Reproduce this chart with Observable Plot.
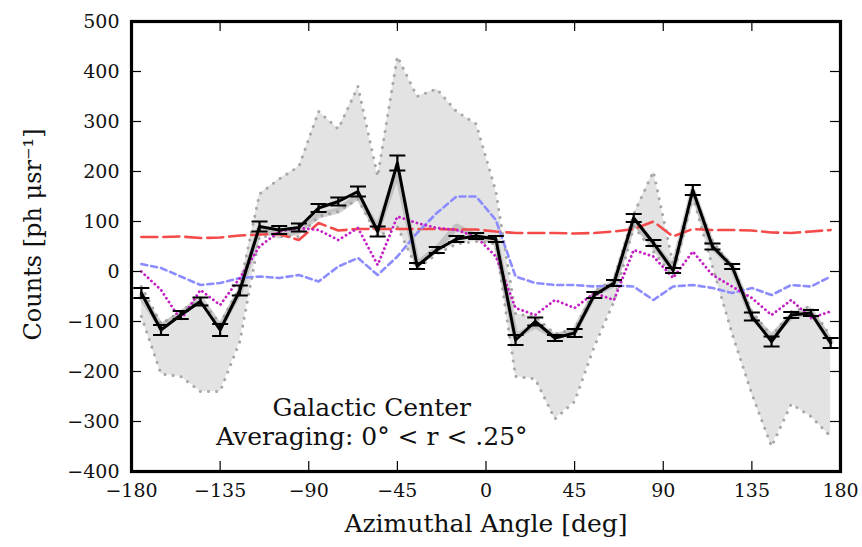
<!DOCTYPE html>
<html>
<head>
<meta charset="utf-8">
<script src="https://cdn.jsdelivr.net/npm/d3@7"></script>
<script src="https://cdn.jsdelivr.net/npm/@observablehq/plot@0.6"></script>
<style>
  html, body { margin: 0; padding: 0; background: white; }
  #chart { width: 862px; height: 547px; }
  #chart svg text { font-family: "DejaVu Serif", "Liberation Serif", serif !important; }
</style>
</head>
<body>
<div id="chart"></div>
<script>
// Azimuthal angle bins (deg)
const angles = [-175,-165,-155,-145,-135,-125,-115,-105,-95,-85,-75,-65,-55,-45,-35,-25,-15,-5,5,15,25,35,45,55,65,75,85,95,105,115,125,135,145,155,165,175];
// Measured counts (black, with error bars)
const counts = [-43,-117,-87,-60,-117,-38,90,83,88,127,140,160,80,217,11,43,65,71,65,-137,-100,-133,-123,-47,-23,107,57,2,163,50,10,-90,-140,-87,-83,-143];
const countErr = [10,10,8,8,12,10,10,8,8,8,8,10,10,15,6,6,6,6,6,10,8,6,8,6,6,8,6,5,10,6,5,8,10,6,6,10];
// Gray shadow (model median) line
const shadow = [-50,-110,-85,-55,-110,-40,85,72,82,112,122,150,85,200,15,45,90,70,60,-130,-108,-130,-120,-45,-25,100,55,5,160,50,10,-90,-130,-90,-80,-140];
// Gray envelope band
const bandHigh = [-30,-105,-80,-55,-105,-30,155,185,210,320,285,370,190,430,350,365,320,295,160,-85,-90,-125,-115,-40,-15,115,200,15,160,60,10,-80,-130,-80,-70,-130];
const bandLow = [-90,-205,-210,-240,-240,-140,70,70,70,110,120,145,70,90,5,35,55,60,55,-210,-215,-295,-260,-150,-60,90,40,-10,150,10,-125,-245,-350,-265,-290,-330];
// Model curves
const redDash = [69,69,70,67,68,72,74,75,63,97,82,85,85,85,85,85,84,84,80,77,77,77,76,77,80,85,100,70,85,83,83,82,78,77,80,83];
const blueDash = [15,7,-10,-27,-23,-13,-10,-13,-7,-20,10,27,-7,30,77,117,150,150,103,-10,-23,-27,-27,-30,-28,-30,-57,-30,-27,-33,-43,-33,-47,-27,-30,-10];
const magentaDot = [0,-37,-97,-37,-67,-13,50,80,87,83,63,87,13,110,97,87,83,70,30,-73,-87,-57,-73,-43,-57,43,30,-13,40,-7,-30,-53,-87,-57,-93,-80];
// Axis ticks
const xTicks = [-180,-135,-90,-45,0,45,90,135,180];
const yTicks = [-400,-300,-200,-100,0,100,200,300,400,500];

const rows = angles.map((a, i) => ({
  a, c: counts[i], e: countErr[i], s: shadow[i], hi: bandHigh[i], lo: bandLow[i],
  r: redDash[i], b: blueDash[i], m: magentaDot[i]
}));

const hline = {
  draw(context, size) {
    const w = Math.sqrt(size / Math.PI);
    context.moveTo(-w, 0);
    context.lineTo(w, 0);
  }
};

const W = 862, H = 547, ML = 131, MR = 22, MT = 21, MB = 76;
const PW = W - ML - MR, PH = H - MT - MB;
const font = "DejaVu Serif";
const minus = (v) => (v < 0 ? "\u2212" + Math.abs(v) : String(v));

const chart = Plot.plot({
  width: W, height: H,
  marginLeft: ML, marginRight: MR, marginTop: MT, marginBottom: MB,
  style: { fontFamily: font, background: "white", overflow: "visible" },
  x: { domain: [-180, 180] },
  y: { domain: [-400, 500] },
  marks: [
    Plot.areaY(rows, { x: "a", y1: "lo", y2: "hi", fill: "#e3e3e3" }),
    Plot.lineY(rows, { x: "a", y: "hi", stroke: "#a8a8a8", strokeWidth: 3, strokeDasharray: "0.1,8", strokeLinecap: "round" }),
    Plot.lineY(rows, { x: "a", y: "lo", stroke: "#a8a8a8", strokeWidth: 3, strokeDasharray: "0.1,8", strokeLinecap: "round" }),
    Plot.lineY(rows, { x: "a", y: "s", stroke: "#9a9a9a", strokeWidth: 6, strokeOpacity: 0.45 }),
    Plot.lineY(rows, { x: "a", y: "r", stroke: "#f44a4a", strokeWidth: 2.6, strokeDasharray: "16,6" }),
    Plot.lineY(rows, { x: "a", y: "b", stroke: "#8c8cff", strokeWidth: 2.6, strokeDasharray: "6,4" }),
    Plot.lineY(rows, { x: "a", y: "m", stroke: "#c41ec4", strokeWidth: 2.8, strokeDasharray: "0.1,4.5", strokeLinecap: "round" }),
    Plot.ruleX(rows, { x: "a", y1: d => d.c - d.e, y2: d => d.c + d.e, stroke: "black", strokeWidth: 2.2 }),
    Plot.dot(rows, { x: "a", y: d => d.c + d.e, symbol: hline, r: 8, stroke: "black", strokeWidth: 2 }),
    Plot.dot(rows, { x: "a", y: d => d.c - d.e, symbol: hline, r: 8, stroke: "black", strokeWidth: 2 }),
    Plot.lineY(rows, { x: "a", y: "c", stroke: "black", strokeWidth: 3 }),
    // inward ticks
    Plot.ruleX(xTicks, { x: d => d, insetTop: PH - 10, stroke: "black", strokeWidth: 1.2 }),
    Plot.ruleX(xTicks, { x: d => d, insetBottom: PH - 10, stroke: "black", strokeWidth: 1.2 }),
    Plot.ruleY(yTicks, { y: d => d, insetRight: PW - 10, stroke: "black", strokeWidth: 1.2 }),
    Plot.ruleY(yTicks, { y: d => d, insetLeft: PW - 10, stroke: "black", strokeWidth: 1.2 }),
    Plot.frame({ stroke: "black", strokeWidth: 3.2 }),
    Plot.axisX(xTicks, { tickSize: 0, tickPadding: 12, tickFormat: minus, fontSize: 19, fill: "#111", label: null, fontFamily: font }),
    Plot.axisY(yTicks, { tickSize: 0, tickPadding: 12, tickFormat: minus, fontSize: 19, fill: "#111", label: null, fontFamily: font }),
    Plot.text(["Azimuthal Angle [deg]"], { frameAnchor: "bottom", dy: 60, fontSize: 25, fill: "#111", fontFamily: font }),
    Plot.text(["Counts [ph \u03bcsr\u207b\u00b9]"], { frameAnchor: "left", textAnchor: "middle", dx: -98, dy: -12, rotate: -90, fontSize: 24, fill: "#111", fontFamily: font }),
    Plot.text(["Galactic Center"], { x: -58, y: -272, textAnchor: "middle", fontSize: 25, fill: "#111", fontFamily: font }),
    Plot.text(["Averaging: 0\u00b0 < r < .25\u00b0"], { x: -58, y: -331, textAnchor: "middle", fontSize: 25, fill: "#111", fontFamily: font })
  ]
});
document.getElementById("chart").appendChild(chart);
</script>
</body>
</html>
